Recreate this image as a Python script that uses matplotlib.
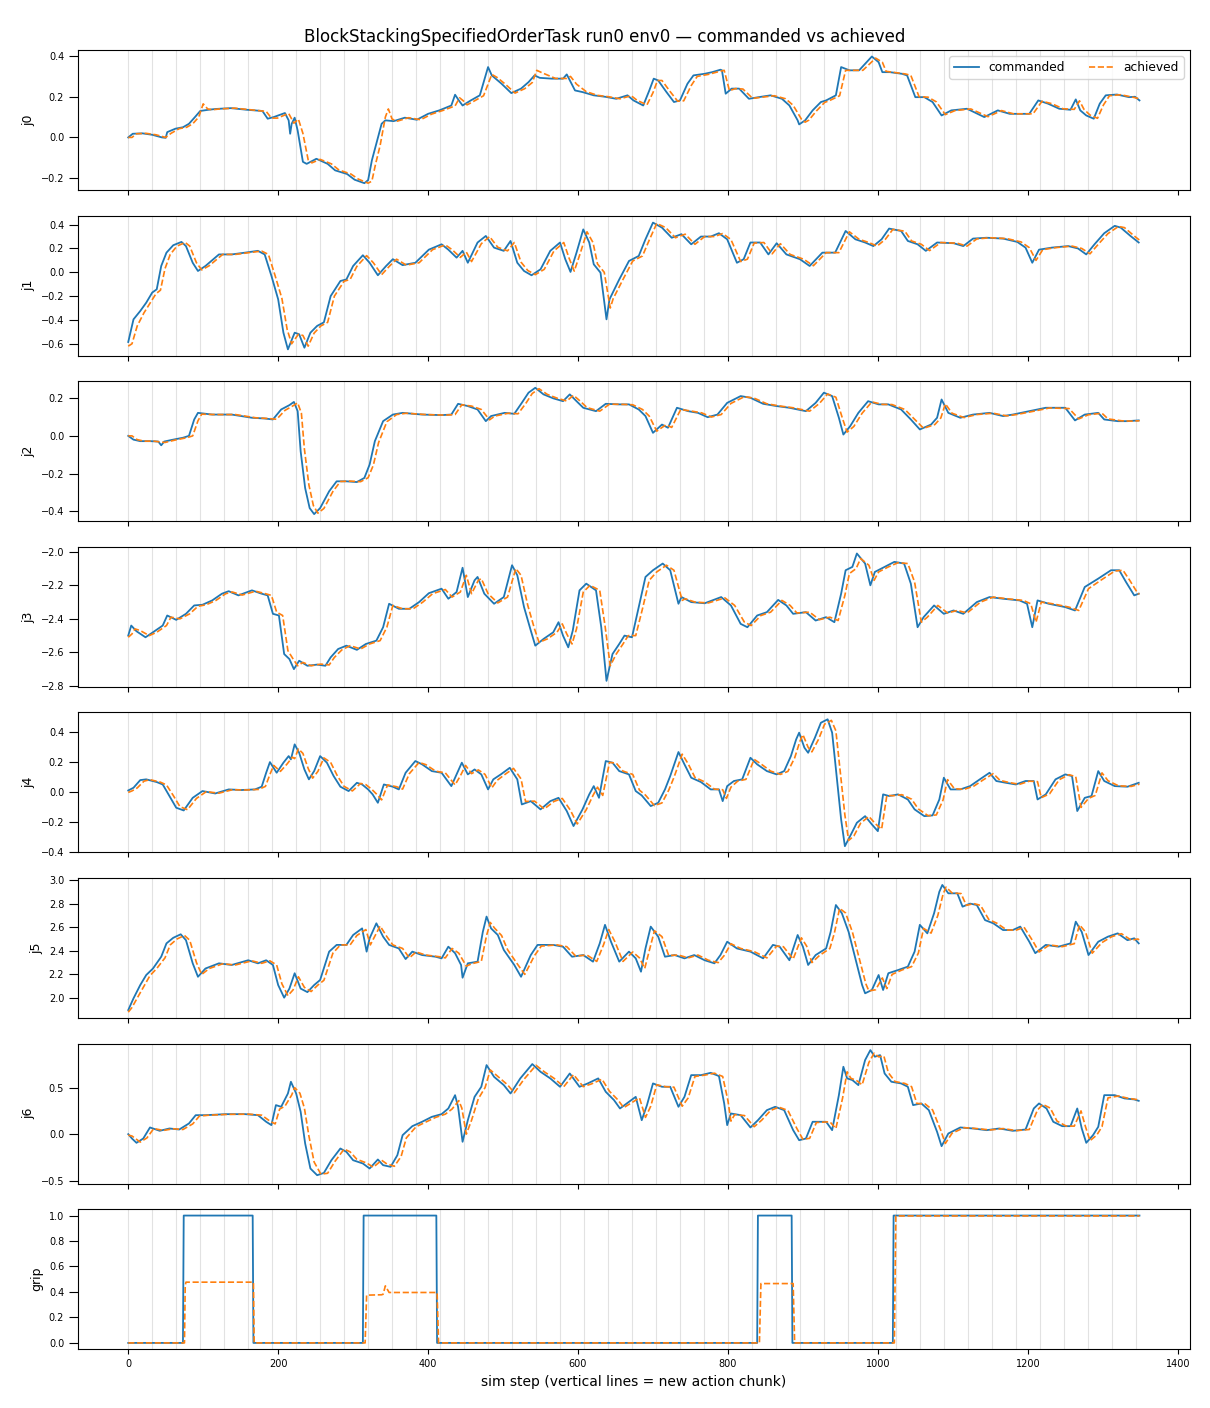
import matplotlib
matplotlib.use("Agg")
import matplotlib.pyplot as plt
from matplotlib.ticker import MaxNLocator
import numpy as np

# ---------------- data ----------------
chunk_len = 32
n_steps = 1350

j0_cmd_s = [0,6,19,32,45,50,52,63,73,81,89,96,107,117,137,158,179,186,194,209,214,216,218,222,226,233,238,251,266,276,292,302,315,320,325,331,338,343,354,369,385,400,415,431,436,441,446,457,469,480,485,498,511,524,534,542,549,565,580,585,596,606,621,636,651,666,674,687,695,701,707,718,728,736,746,754,769,779,790,792,797,805,815,828,841,857,872,882,893,895,903,913,924,931,944,951,962,975,985,992,1001,1006,1016,1032,1039,1050,1062,1073,1085,1098,1119,1142,1160,1176,1202,1214,1227,1242,1257,1264,1270,1278,1288,1296,1304,1319,1335,1343,1349]
j0_cmd_v = [0.0,0.018,0.02,0.013,0.0,-0.002,0.026,0.043,0.05,0.067,0.10,0.13,0.136,0.14,0.144,0.136,0.13,0.092,0.10,0.12,0.084,0.018,0.067,0.097,0.034,-0.12,-0.13,-0.105,-0.13,-0.162,-0.18,-0.208,-0.225,-0.21,-0.113,-0.03,0.067,0.084,0.08,0.097,0.087,0.116,0.133,0.157,0.21,0.182,0.157,0.182,0.207,0.346,0.305,0.264,0.218,0.24,0.272,0.305,0.293,0.289,0.289,0.31,0.231,0.223,0.207,0.20,0.19,0.207,0.182,0.157,0.23,0.289,0.28,0.223,0.174,0.182,0.264,0.305,0.313,0.321,0.333,0.33,0.215,0.24,0.24,0.19,0.198,0.207,0.19,0.157,0.084,0.064,0.084,0.133,0.174,0.182,0.207,0.346,0.33,0.33,0.37,0.398,0.37,0.321,0.321,0.313,0.305,0.198,0.198,0.174,0.108,0.133,0.141,0.10,0.133,0.116,0.116,0.182,0.166,0.141,0.136,0.187,0.133,0.108,0.092,0.166,0.207,0.211,0.198,0.20,0.182]
j0_ach_s = [0,5,11,24,37,50,57,68,78,86,94,100,106,112,122,142,163,184,191,199,214,221,227,233,240,245,256,271,281,297,307,320,325,330,336,343,347,352,359,374,390,405,420,436,442,447,452,462,474,485,492,503,516,529,539,545,552,570,585,590,598,611,626,641,656,671,679,692,700,706,712,723,733,741,751,759,774,784,795,802,810,820,833,846,862,877,887,898,903,908,918,929,936,949,957,967,980,990,997,1006,1011,1021,1037,1044,1055,1067,1078,1090,1103,1124,1147,1165,1181,1207,1219,1232,1247,1262,1269,1275,1283,1293,1301,1309,1324,1340,1349]
j0_ach_v = [0.0,0.0,0.018,0.02,0.013,0.0,0.02,0.043,0.05,0.067,0.10,0.165,0.14,0.136,0.14,0.144,0.136,0.128,0.095,0.095,0.118,0.07,0.09,0.02,-0.11,-0.125,-0.108,-0.13,-0.16,-0.18,-0.205,-0.225,-0.215,-0.13,-0.04,0.10,0.14,0.09,0.08,0.097,0.087,0.115,0.133,0.155,0.195,0.18,0.16,0.18,0.205,0.31,0.295,0.262,0.218,0.24,0.27,0.33,0.318,0.29,0.29,0.30,0.262,0.225,0.207,0.20,0.19,0.205,0.182,0.16,0.22,0.28,0.28,0.225,0.178,0.18,0.255,0.30,0.31,0.32,0.33,0.23,0.24,0.238,0.192,0.198,0.205,0.19,0.158,0.09,0.075,0.085,0.13,0.172,0.182,0.205,0.33,0.33,0.33,0.365,0.39,0.37,0.325,0.32,0.312,0.305,0.20,0.198,0.175,0.112,0.132,0.14,0.102,0.132,0.116,0.116,0.178,0.166,0.141,0.138,0.18,0.138,0.11,0.094,0.16,0.205,0.21,0.198,0.19]

j1_cmd_s = [0,7,16,24,32,38,44,51,60,71,77,86,93,103,121,138,156,173,182,191,200,207,213,222,228,235,243,252,261,270,283,291,300,313,322,333,344,353,366,383,401,418,427,438,446,453,466,477,488,501,510,519,528,538,550,563,576,583,590,598,607,615,621,630,638,642,655,668,681,690,700,712,725,738,751,764,777,788,799,812,821,830,843,854,865,878,896,909,926,943,957,970,983,994,1005,1015,1031,1040,1053,1064,1079,1101,1114,1127,1145,1167,1186,1197,1206,1215,1232,1254,1267,1278,1289,1302,1316,1324,1337,1348]
j1_cmd_v = [-0.585,-0.395,-0.325,-0.255,-0.17,-0.143,0.053,0.165,0.227,0.255,0.22,0.08,0.011,0.053,0.15,0.15,0.165,0.18,0.15,-0.03,-0.227,-0.507,-0.647,-0.507,-0.52,-0.633,-0.507,-0.45,-0.42,-0.2,-0.073,-0.06,0.053,0.143,0.08,-0.025,0.053,0.11,0.06,0.08,0.19,0.235,0.19,0.123,0.18,0.08,0.25,0.305,0.207,0.18,0.263,0.08,0.011,-0.025,0.025,0.18,0.25,0.11,0.003,0.165,0.36,0.25,0.067,-0.003,-0.395,-0.227,-0.06,0.095,0.137,0.277,0.417,0.375,0.29,0.32,0.235,0.30,0.30,0.328,0.277,0.08,0.11,0.25,0.25,0.15,0.244,0.15,0.11,0.053,0.165,0.165,0.347,0.277,0.25,0.22,0.277,0.367,0.347,0.263,0.235,0.18,0.25,0.244,0.22,0.283,0.29,0.283,0.255,0.207,0.08,0.19,0.207,0.22,0.20,0.15,0.235,0.328,0.39,0.375,0.305,0.25]
j1_ach_s = [0,5,12,21,29,37,43,49,56,65,76,82,91,98,108,126,143,161,178,187,196,205,212,218,227,233,240,248,257,266,275,288,296,305,318,327,338,349,358,371,388,406,423,432,443,451,458,471,482,493,506,515,524,533,543,555,568,581,588,595,603,612,620,626,635,643,647,660,673,686,695,705,717,730,743,756,769,782,793,804,817,826,835,848,859,870,883,901,914,931,948,962,975,988,999,1010,1020,1036,1045,1058,1069,1084,1106,1119,1132,1150,1172,1191,1202,1211,1220,1237,1259,1272,1283,1294,1307,1321,1329,1342,1349]
j1_ach_v = [-0.62,-0.60,-0.45,-0.34,-0.26,-0.18,-0.15,0.03,0.15,0.22,0.25,0.22,0.08,0.02,0.055,0.15,0.15,0.165,0.178,0.15,-0.03,-0.22,-0.48,-0.60,-0.52,-0.53,-0.62,-0.51,-0.45,-0.42,-0.20,-0.075,-0.06,0.05,0.14,0.08,-0.02,0.055,0.11,0.06,0.08,0.19,0.23,0.19,0.125,0.17,0.09,0.24,0.30,0.21,0.18,0.25,0.085,0.015,-0.02,0.025,0.18,0.25,0.12,0.01,0.16,0.34,0.25,0.07,0.0,-0.30,-0.22,-0.06,0.095,0.137,0.27,0.41,0.375,0.29,0.32,0.235,0.30,0.30,0.325,0.275,0.09,0.11,0.245,0.25,0.155,0.24,0.15,0.11,0.055,0.165,0.165,0.34,0.277,0.25,0.22,0.277,0.36,0.345,0.263,0.235,0.182,0.25,0.244,0.22,0.28,0.29,0.283,0.255,0.207,0.10,0.19,0.207,0.22,0.20,0.155,0.235,0.325,0.385,0.375,0.305,0.27]

j2_cmd_s = [0,7,16,29,40,44,48,60,73,81,88,93,112,138,165,182,193,204,215,221,226,230,236,242,248,256,268,278,291,305,315,322,329,340,353,366,392,418,431,440,453,466,477,484,502,515,525,534,543,554,567,580,589,598,607,624,637,655,668,681,690,700,712,720,732,747,760,773,786,799,817,830,847,865,882,904,917,928,939,948,954,963,974,987,1001,1014,1031,1044,1056,1071,1079,1085,1094,1110,1127,1149,1167,1180,1202,1224,1250,1263,1276,1294,1302,1320,1333,1348]
j2_cmd_v = [0.0,-0.02,-0.028,-0.028,-0.03,-0.05,-0.03,-0.02,-0.01,0.0,0.087,0.122,0.113,0.113,0.096,0.092,0.087,0.14,0.163,0.18,0.131,-0.082,-0.277,-0.383,-0.415,-0.383,-0.294,-0.241,-0.241,-0.245,-0.223,-0.152,-0.028,0.078,0.113,0.122,0.113,0.11,0.113,0.17,0.158,0.14,0.078,0.105,0.122,0.117,0.175,0.229,0.255,0.22,0.199,0.184,0.22,0.184,0.149,0.131,0.17,0.167,0.167,0.14,0.105,0.016,0.06,0.043,0.149,0.131,0.122,0.099,0.113,0.175,0.211,0.202,0.17,0.158,0.149,0.131,0.175,0.229,0.211,0.096,0.007,0.051,0.122,0.184,0.167,0.167,0.14,0.087,0.034,0.06,0.096,0.193,0.122,0.096,0.113,0.122,0.105,0.113,0.131,0.149,0.149,0.082,0.113,0.122,0.087,0.078,0.078,0.082]
j2_ach_s = [0,5,12,21,34,49,65,78,86,93,98,117,143,170,187,198,209,220,226,231,235,241,247,253,261,273,283,296,310,320,327,334,345,358,371,397,423,436,445,458,471,482,489,507,520,530,539,548,559,572,585,594,603,612,629,642,660,673,686,695,705,717,725,737,752,765,778,791,804,822,835,852,870,887,909,922,933,944,953,959,968,979,992,1006,1019,1036,1049,1061,1076,1084,1090,1099,1115,1132,1154,1172,1185,1207,1229,1255,1268,1281,1299,1307,1325,1338,1349]
j2_ach_v = [0.0,0.0,-0.02,-0.028,-0.028,-0.035,-0.02,-0.01,0.0,0.08,0.115,0.113,0.113,0.096,0.092,0.088,0.135,0.16,0.175,0.12,-0.07,-0.26,-0.37,-0.41,-0.385,-0.295,-0.242,-0.24,-0.243,-0.222,-0.155,-0.035,0.075,0.113,0.12,0.113,0.11,0.113,0.165,0.158,0.14,0.085,0.105,0.12,0.117,0.17,0.225,0.25,0.22,0.20,0.185,0.215,0.184,0.15,0.131,0.168,0.167,0.165,0.14,0.105,0.025,0.058,0.045,0.14,0.131,0.122,0.10,0.113,0.172,0.208,0.20,0.17,0.158,0.149,0.131,0.172,0.222,0.205,0.09,0.02,0.05,0.12,0.18,0.167,0.166,0.14,0.088,0.04,0.06,0.095,0.17,0.12,0.097,0.113,0.12,0.106,0.113,0.13,0.148,0.145,0.09,0.112,0.12,0.09,0.08,0.078,0.08]

j3_cmd_s = [0,4,11,23,33,46,52,64,77,88,99,112,125,134,147,165,178,186,193,201,208,215,221,228,239,252,263,270,280,291,305,317,331,340,348,361,375,388,401,418,427,438,446,453,462,466,475,488,501,512,519,528,537,543,554,567,574,580,587,593,602,611,624,631,638,646,655,662,672,681,690,700,713,723,734,738,751,769,791,804,817,826,839,852,867,878,887,904,917,931,942,951,957,966,972,983,990,996,1009,1022,1035,1044,1053,1061,1075,1088,1101,1114,1132,1149,1167,1189,1199,1206,1213,1228,1250,1263,1276,1294,1311,1322,1331,1342,1348]
j3_cmd_v = [-2.50,-2.44,-2.474,-2.51,-2.48,-2.44,-2.38,-2.406,-2.37,-2.32,-2.316,-2.29,-2.25,-2.235,-2.26,-2.23,-2.25,-2.26,-2.37,-2.38,-2.61,-2.64,-2.70,-2.65,-2.68,-2.673,-2.68,-2.63,-2.58,-2.56,-2.585,-2.55,-2.53,-2.45,-2.31,-2.34,-2.34,-2.30,-2.247,-2.22,-2.28,-2.24,-2.095,-2.27,-2.17,-2.15,-2.25,-2.31,-2.27,-2.08,-2.14,-2.33,-2.47,-2.56,-2.52,-2.48,-2.42,-2.50,-2.57,-2.47,-2.23,-2.19,-2.23,-2.45,-2.77,-2.61,-2.55,-2.50,-2.51,-2.33,-2.15,-2.11,-2.07,-2.11,-2.31,-2.27,-2.30,-2.307,-2.27,-2.32,-2.43,-2.45,-2.38,-2.36,-2.287,-2.32,-2.37,-2.36,-2.41,-2.39,-2.42,-2.25,-2.11,-2.09,-2.01,-2.07,-2.20,-2.12,-2.09,-2.06,-2.07,-2.19,-2.45,-2.39,-2.32,-2.37,-2.35,-2.37,-2.30,-2.27,-2.28,-2.29,-2.31,-2.45,-2.29,-2.31,-2.33,-2.35,-2.21,-2.16,-2.11,-2.11,-2.18,-2.26,-2.25]
j3_ach_s = [0,5,9,16,28,38,51,57,69,82,93,104,117,130,139,152,170,183,191,198,206,213,220,226,233,244,257,268,275,285,296,310,322,336,345,353,366,380,393,406,423,432,443,451,458,467,471,480,493,506,517,524,533,542,548,559,572,579,585,592,598,607,616,629,636,643,651,660,667,677,686,695,705,718,728,739,743,756,774,796,809,822,831,844,857,872,883,892,909,922,936,947,956,962,971,977,988,995,1001,1014,1027,1040,1049,1058,1066,1080,1093,1106,1119,1137,1154,1172,1194,1204,1211,1218,1233,1255,1268,1281,1299,1316,1327,1336,1347,1349]
j3_ach_v = [-2.51,-2.49,-2.46,-2.47,-2.50,-2.48,-2.44,-2.39,-2.40,-2.37,-2.325,-2.316,-2.29,-2.25,-2.24,-2.258,-2.235,-2.25,-2.26,-2.36,-2.38,-2.59,-2.64,-2.68,-2.66,-2.68,-2.67,-2.675,-2.63,-2.585,-2.56,-2.58,-2.55,-2.53,-2.45,-2.32,-2.34,-2.34,-2.30,-2.25,-2.225,-2.27,-2.24,-2.14,-2.25,-2.17,-2.16,-2.25,-2.305,-2.27,-2.10,-2.14,-2.32,-2.46,-2.54,-2.52,-2.48,-2.43,-2.49,-2.55,-2.46,-2.24,-2.20,-2.23,-2.44,-2.68,-2.61,-2.55,-2.50,-2.50,-2.34,-2.17,-2.12,-2.08,-2.11,-2.29,-2.28,-2.30,-2.305,-2.275,-2.32,-2.42,-2.44,-2.38,-2.36,-2.29,-2.32,-2.365,-2.36,-2.405,-2.39,-2.41,-2.26,-2.13,-2.10,-2.04,-2.08,-2.17,-2.12,-2.09,-2.065,-2.07,-2.18,-2.42,-2.39,-2.32,-2.365,-2.35,-2.365,-2.30,-2.27,-2.28,-2.29,-2.31,-2.42,-2.30,-2.31,-2.33,-2.35,-2.22,-2.165,-2.115,-2.11,-2.17,-2.25,-2.25]

j4_cmd_s = [0,7,16,24,38,46,55,64,74,86,99,116,134,151,169,178,184,189,198,207,214,217,222,228,235,241,248,256,265,274,283,294,305,312,320,326,333,341,353,361,370,383,392,405,418,431,438,445,453,462,471,480,487,497,509,519,525,537,550,563,574,585,594,606,615,621,628,637,646,655,668,677,685,697,707,716,723,734,742,751,764,777,788,793,799,808,819,830,839,852,865,875,884,891,895,902,907,916,924,933,939,945,951,956,963,972,983,992,1000,1007,1015,1027,1040,1049,1062,1073,1082,1088,1097,1110,1123,1136,1149,1158,1171,1184,1197,1208,1213,1224,1237,1250,1259,1266,1276,1285,1294,1302,1316,1333,1348]
j4_cmd_v = [0.013,0.031,0.082,0.087,0.069,0.053,-0.024,-0.102,-0.12,-0.036,0.009,-0.007,0.02,0.016,0.02,0.038,0.131,0.202,0.131,0.198,0.242,0.22,0.32,0.264,0.153,0.087,0.142,0.242,0.198,0.109,0.038,0.009,0.064,0.053,0.02,-0.013,-0.069,0.053,0.038,0.02,0.131,0.209,0.187,0.142,0.131,0.042,0.12,0.198,0.12,0.153,0.12,0.02,0.087,0.12,0.164,0.087,-0.08,-0.058,-0.113,-0.058,-0.036,-0.124,-0.224,-0.113,-0.013,0.042,-0.036,0.209,0.198,0.142,0.12,0.009,-0.02,-0.091,-0.069,0.02,0.109,0.269,0.187,0.098,0.069,0.02,0.02,-0.058,0.042,0.076,0.087,0.231,0.187,0.142,0.12,0.142,0.242,0.353,0.398,0.298,0.264,0.364,0.464,0.487,0.398,0.109,-0.18,-0.358,-0.291,-0.202,-0.158,-0.213,-0.258,-0.013,-0.024,-0.013,-0.047,-0.113,-0.158,-0.153,-0.047,0.098,0.02,0.02,0.042,0.087,0.131,0.076,0.064,0.053,0.076,0.076,-0.047,-0.013,0.087,0.12,0.109,-0.124,-0.036,-0.024,0.142,0.076,0.042,0.038,0.064]
j4_ach_s = [0,5,12,21,29,43,51,60,69,79,91,104,121,139,156,174,183,189,194,203,212,219,222,227,233,240,246,253,261,270,279,288,299,310,317,325,331,338,346,358,366,375,388,397,410,423,436,443,450,458,467,476,485,492,502,514,524,530,542,555,568,579,590,599,611,620,626,633,642,651,660,673,682,690,702,712,721,728,739,747,756,769,782,793,798,804,813,824,835,844,857,870,880,889,896,900,907,912,921,929,938,944,950,956,961,968,977,988,997,1005,1012,1020,1032,1045,1054,1067,1078,1087,1093,1102,1115,1128,1141,1154,1163,1176,1189,1202,1213,1218,1229,1242,1255,1264,1271,1281,1290,1299,1307,1321,1338,1349]
j4_ach_v = [0.0,0.01,0.03,0.075,0.085,0.068,0.05,-0.02,-0.095,-0.115,-0.04,0.005,-0.005,0.018,0.016,0.02,0.04,0.12,0.18,0.14,0.19,0.235,0.225,0.29,0.26,0.16,0.095,0.14,0.23,0.20,0.11,0.04,0.01,0.06,0.052,0.02,-0.01,-0.05,0.05,0.038,0.022,0.125,0.20,0.185,0.142,0.13,0.05,0.11,0.18,0.125,0.15,0.12,0.03,0.08,0.118,0.16,0.09,-0.06,-0.058,-0.11,-0.06,-0.04,-0.12,-0.21,-0.115,-0.02,0.035,-0.02,0.20,0.195,0.142,0.12,0.015,-0.018,-0.088,-0.07,0.015,0.10,0.255,0.19,0.10,0.07,0.022,0.018,-0.04,0.035,0.075,0.087,0.22,0.19,0.142,0.12,0.14,0.23,0.34,0.385,0.30,0.27,0.355,0.455,0.48,0.41,0.13,-0.15,-0.32,-0.29,-0.205,-0.16,-0.21,-0.245,-0.02,-0.022,-0.015,-0.045,-0.11,-0.155,-0.15,-0.05,0.085,0.025,0.02,0.042,0.085,0.125,0.08,0.065,0.054,0.075,0.072,-0.035,-0.01,0.085,0.118,0.105,-0.10,-0.04,-0.02,0.13,0.078,0.044,0.04,0.055]

j5_cmd_s = [0,7,16,24,33,44,51,60,70,77,86,93,103,121,138,160,173,184,193,200,208,215,222,230,239,248,256,268,278,291,300,312,318,322,331,340,348,361,370,379,392,410,418,427,436,444,446,453,466,473,478,484,493,501,515,524,537,546,567,580,592,607,620,629,636,644,655,668,677,684,690,697,707,716,729,742,755,769,782,790,799,812,830,847,860,869,882,893,900,907,917,931,937,944,952,961,970,979,983,992,1001,1007,1014,1027,1040,1049,1056,1066,1075,1082,1086,1094,1106,1113,1123,1132,1143,1154,1167,1180,1190,1202,1210,1224,1241,1257,1264,1272,1281,1294,1307,1320,1333,1342,1348]
j5_cmd_v = [1.898,1.997,2.11,2.195,2.25,2.35,2.463,2.51,2.54,2.49,2.294,2.18,2.25,2.294,2.28,2.32,2.294,2.32,2.28,2.11,2.003,2.08,2.21,2.08,2.05,2.11,2.153,2.393,2.45,2.45,2.534,2.59,2.393,2.506,2.633,2.52,2.45,2.42,2.33,2.393,2.364,2.35,2.336,2.435,2.38,2.28,2.172,2.294,2.308,2.56,2.69,2.59,2.534,2.407,2.28,2.18,2.364,2.45,2.45,2.435,2.35,2.364,2.308,2.463,2.62,2.477,2.308,2.393,2.336,2.223,2.42,2.605,2.52,2.35,2.364,2.336,2.364,2.32,2.294,2.364,2.477,2.42,2.393,2.336,2.45,2.435,2.32,2.534,2.435,2.28,2.364,2.42,2.56,2.788,2.718,2.56,2.336,2.11,2.04,2.068,2.195,2.068,2.21,2.237,2.266,2.393,2.62,2.548,2.718,2.90,2.958,2.887,2.887,2.774,2.80,2.788,2.66,2.633,2.576,2.576,2.605,2.477,2.38,2.45,2.435,2.463,2.647,2.56,2.364,2.477,2.52,2.548,2.49,2.506,2.463]
j5_ach_s = [0,5,12,21,29,38,49,56,65,75,82,91,98,108,126,143,165,178,189,198,205,213,220,227,235,244,253,261,273,283,296,305,317,323,327,336,345,353,366,375,384,397,415,423,432,441,451,458,471,478,483,489,498,506,520,529,542,551,572,585,597,612,625,634,641,649,660,673,682,689,695,702,712,721,734,747,760,774,787,795,804,817,835,852,865,874,887,898,905,912,922,936,942,949,957,966,975,984,988,997,1006,1012,1019,1032,1045,1054,1061,1071,1080,1087,1091,1099,1111,1118,1128,1137,1148,1159,1172,1185,1195,1207,1215,1229,1246,1262,1269,1277,1286,1299,1312,1325,1338,1347,1349]
j5_ach_v = [1.88,1.92,2.0,2.1,2.19,2.25,2.34,2.45,2.50,2.53,2.49,2.30,2.20,2.25,2.29,2.28,2.315,2.294,2.315,2.28,2.12,2.02,2.07,2.18,2.09,2.055,2.11,2.15,2.38,2.45,2.45,2.53,2.58,2.45,2.50,2.61,2.52,2.45,2.42,2.34,2.39,2.364,2.35,2.34,2.42,2.38,2.27,2.29,2.31,2.53,2.64,2.59,2.53,2.41,2.28,2.20,2.36,2.44,2.45,2.435,2.355,2.364,2.31,2.45,2.58,2.48,2.31,2.39,2.34,2.25,2.40,2.57,2.52,2.36,2.364,2.34,2.364,2.32,2.30,2.36,2.46,2.42,2.393,2.34,2.44,2.435,2.33,2.51,2.44,2.30,2.36,2.42,2.55,2.76,2.72,2.56,2.34,2.12,2.06,2.07,2.17,2.08,2.20,2.237,2.266,2.38,2.59,2.55,2.70,2.88,2.94,2.89,2.885,2.785,2.80,2.785,2.665,2.633,2.576,2.576,2.60,2.48,2.39,2.45,2.435,2.46,2.62,2.56,2.38,2.47,2.52,2.545,2.49,2.50,2.49]

j6_cmd_s = [0,5,11,20,29,42,55,68,81,90,103,130,156,173,184,191,197,204,213,217,224,230,236,243,252,261,271,283,291,300,313,322,333,340,350,359,366,379,392,405,418,427,436,440,446,453,462,471,478,488,501,510,523,539,550,563,576,589,602,613,627,637,648,656,668,677,685,692,700,712,723,734,742,751,764,777,788,795,799,804,817,830,840,852,863,875,887,895,904,913,931,939,948,954,959,966,974,983,990,996,1003,1009,1018,1031,1040,1047,1058,1068,1079,1085,1094,1110,1127,1145,1162,1180,1197,1208,1215,1225,1234,1246,1257,1266,1272,1278,1287,1294,1302,1316,1329,1342,1348]
j6_cmd_v = [0.0,-0.047,-0.093,-0.047,0.072,0.036,0.061,0.05,0.115,0.204,0.204,0.215,0.215,0.204,0.133,0.097,0.312,0.294,0.437,0.563,0.437,0.24,-0.10,-0.369,-0.441,-0.416,-0.28,-0.154,-0.19,-0.28,-0.315,-0.369,-0.272,-0.333,-0.351,-0.226,-0.011,0.086,0.133,0.186,0.215,0.276,0.419,0.294,-0.082,0.15,0.401,0.509,0.742,0.616,0.527,0.437,0.599,0.753,0.67,0.599,0.509,0.652,0.509,0.545,0.599,0.455,0.366,0.276,0.348,0.401,0.15,0.312,0.545,0.509,0.509,0.294,0.401,0.634,0.634,0.659,0.624,0.33,0.097,0.222,0.204,0.072,0.15,0.258,0.294,0.258,0.043,-0.065,-0.047,0.133,0.133,0.043,0.419,0.724,0.599,0.581,0.527,0.796,0.903,0.832,0.849,0.652,0.563,0.545,0.509,0.312,0.33,0.258,0.025,-0.129,0.007,0.072,0.061,0.043,0.061,0.036,0.05,0.276,0.33,0.276,0.133,0.086,0.086,0.276,0.061,-0.093,-0.011,0.079,0.419,0.419,0.384,0.373,0.358]
j6_ach_s = [0,5,10,16,25,34,47,60,73,86,95,108,135,161,178,189,196,202,209,218,222,229,235,241,248,257,266,276,288,296,305,318,327,338,345,355,364,371,384,397,410,423,432,441,445,451,458,467,476,483,493,506,515,528,544,555,568,581,594,607,618,632,642,653,661,673,682,690,697,705,717,728,739,747,756,769,782,793,800,804,809,822,835,845,857,868,880,892,900,909,918,936,944,953,959,964,971,979,988,995,1001,1008,1014,1023,1036,1045,1052,1063,1073,1084,1090,1099,1115,1132,1150,1167,1185,1202,1213,1220,1230,1239,1251,1262,1271,1277,1283,1292,1299,1307,1321,1334,1347,1349]
j6_ach_v = [-0.01,-0.02,-0.05,-0.085,-0.04,0.06,0.04,0.058,0.05,0.11,0.195,0.204,0.213,0.215,0.204,0.14,0.11,0.27,0.30,0.42,0.50,0.44,0.28,-0.02,-0.30,-0.43,-0.42,-0.29,-0.16,-0.19,-0.27,-0.31,-0.355,-0.28,-0.32,-0.345,-0.24,-0.04,0.08,0.13,0.18,0.215,0.27,0.36,0.28,0.0,0.15,0.38,0.50,0.69,0.62,0.53,0.445,0.59,0.74,0.67,0.60,0.51,0.64,0.51,0.54,0.59,0.46,0.37,0.285,0.345,0.39,0.18,0.30,0.53,0.51,0.505,0.30,0.39,0.62,0.634,0.655,0.62,0.36,0.14,0.21,0.20,0.08,0.15,0.255,0.29,0.255,0.06,-0.055,-0.045,0.125,0.133,0.06,0.39,0.67,0.60,0.58,0.53,0.77,0.87,0.83,0.84,0.66,0.565,0.545,0.51,0.33,0.325,0.26,0.04,-0.10,0.01,0.07,0.06,0.045,0.06,0.038,0.05,0.26,0.32,0.28,0.14,0.088,0.086,0.25,0.08,-0.07,-0.01,0.08,0.39,0.41,0.385,0.37,0.36]

grip_cmd_s = [0,73,74,166,167,313,314,411,412,839,840,885,886,1020,1021,1349]
grip_cmd_v = [0,0,1,1,0,0,1,1,0,0,1,1,0,0,1,1]
grip_ach_s = [0,75,76,77,167,168,316,318,338,340,343,348,412,414,842,844,887,889,1022,1024,1349]
grip_ach_v = [0,0,0.45,0.477,0.477,0,0,0.375,0.378,0.382,0.448,0.396,0.396,0,0,0.466,0.466,0,0,0.997,0.997]

# y-limits of each panel as shown in the reference
y_lims = [(-0.259, 0.43), (-0.70, 0.476), (-0.453, 0.29), (-2.806, -1.97),
          (-0.40, 0.533), (1.83, 3.017), (-0.532, 0.973), (-0.05, 1.05)]

panels = [
    ("j0", j0_cmd_s, j0_cmd_v, j0_ach_s, j0_ach_v),
    ("j1", j1_cmd_s, j1_cmd_v, j1_ach_s, j1_ach_v),
    ("j2", j2_cmd_s, j2_cmd_v, j2_ach_s, j2_ach_v),
    ("j3", j3_cmd_s, j3_cmd_v, j3_ach_s, j3_ach_v),
    ("j4", j4_cmd_s, j4_cmd_v, j4_ach_s, j4_ach_v),
    ("j5", j5_cmd_s, j5_cmd_v, j5_ach_s, j5_ach_v),
    ("j6", j6_cmd_s, j6_cmd_v, j6_ach_s, j6_ach_v),
    ("grip", grip_cmd_s, grip_cmd_v, grip_ach_s, grip_ach_v),
]

title = "BlockStackingSpecifiedOrderTask run0 env0 \u2014 commanded vs achieved"
xlabel = "sim step (vertical lines = new action chunk)"

# ---------------- plot ----------------
fig, axes = plt.subplots(len(panels), 1, figsize=(12.1, 14.08), dpi=100, sharex=True)
fig.subplots_adjust(left=0.0642, right=0.9835, top=0.9645, bottom=0.0417, hspace=0.182)

chunk_starts = np.arange(0, n_steps, chunk_len)
for ax, (name, cs, cv, as_, av), yl in zip(axes, panels, y_lims):
    for c in chunk_starts:
        ax.axvline(c, color="0.55", alpha=0.25, lw=0.8, zorder=0)
    ax.plot(cs, cv, color="#1f77b4", lw=1.3, label="commanded", zorder=2)
    ax.plot(as_, av, color="#ff7f0e", lw=1.2, ls="--", label="achieved", zorder=3)
    ax.set_ylabel(name, fontsize=9)
    ax.set_ylim(*yl)
    ax.yaxis.set_major_locator(MaxNLocator(nbins=6, steps=[1, 2, 5, 10]))
    ax.tick_params(labelsize=7)
    ax.tick_params(axis="y", length=6.2)

axes[0].legend(loc="upper right", ncol=2, fontsize=8.8)
axes[-1].set_xlabel(xlabel, fontsize=10)
fig.suptitle(title, fontsize=12, y=0.980)
fig.savefig("out.png", dpi=100)
